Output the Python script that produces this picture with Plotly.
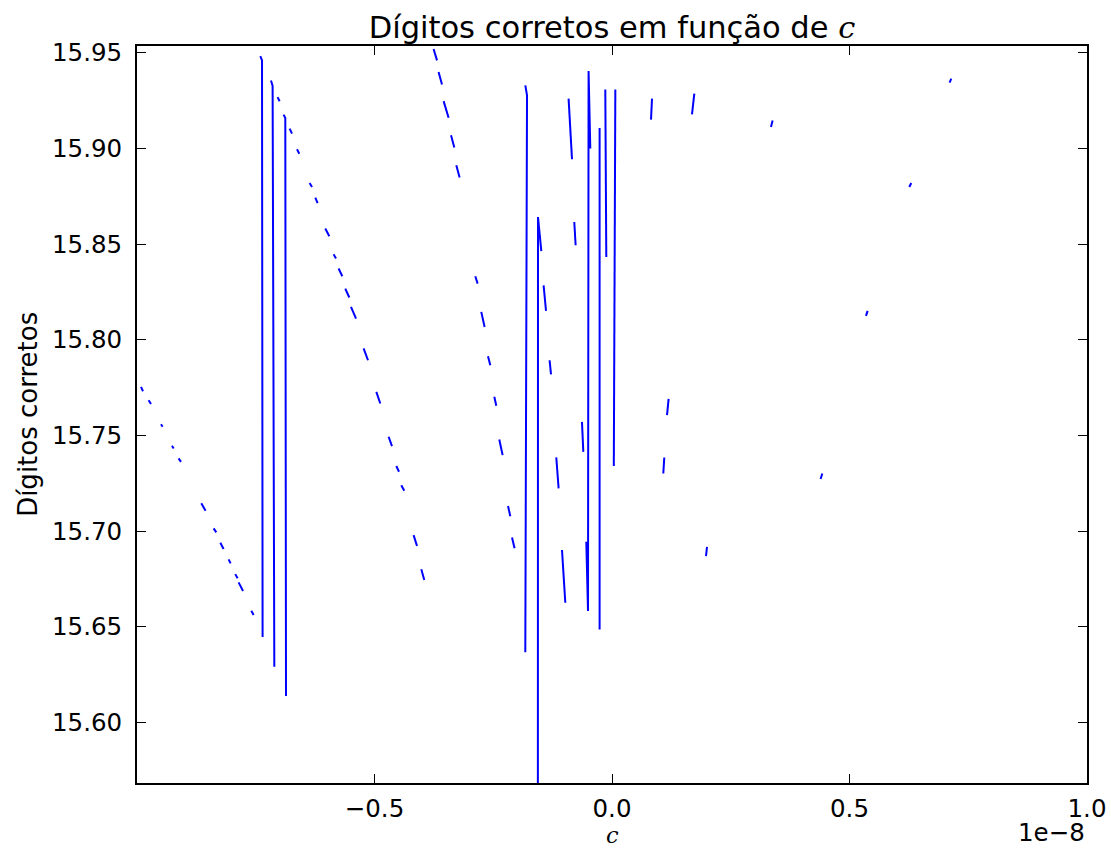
import plotly.graph_objects as go

# c values in units of 1e-8; "digitos corretos" values. Each inner list is one
# visible run of consecutive finite samples (gaps = infinite values in the source).
grpA_x = [[-0.9916, -0.9874], [-0.9756, -0.9705], [-0.9495, -0.9461], [-0.9263, -0.9229],
          [-0.9124, -0.9074], [-0.8646, -0.8556], [-0.8387, -0.8331], [-0.8246, -0.8177],
          [-0.8072, -0.8029], [-0.7931, -0.7882], [-0.7861, -0.7768], [-0.7594, -0.7545]]
grpA_y = [[15.7754, 15.7731], [15.7684, 15.7664], [15.7559, 15.7545], [15.7446, 15.7432],
          [15.7380, 15.7362], [15.7145, 15.7106], [15.7014, 15.6993], [15.6939, 15.6906],
          [15.6852, 15.6831], [15.6775, 15.6753], [15.6732, 15.6687], [15.6584, 15.6561]]

spikes_x = [[-0.7404, -0.7368, -0.7356], [-0.7179, -0.7145, -0.7109], [-0.6914, -0.6878, -0.6863],
            [-0.1825, -0.1789, -0.1825], [-0.1562, -0.1558, -0.1488],
            [-0.0457, -0.0493, -0.0505, -0.0541], [-0.0261, -0.0261], [-0.0141, -0.0120],
            [0.0070, 0.0038]]
spikes_y = [[15.9483, 15.9461, 15.6446], [15.9356, 15.9327, 15.6291], [15.9177, 15.9159, 15.6138],
            [15.9330, 15.9278, 15.6366], [15.40, 15.8642, 15.8464],
            [15.9000, 15.9405, 15.6582, 15.6944], [15.9107, 15.6486], [15.9309, 15.8433],
            [15.9309, 15.7340]]

grpB_x = [[-0.7040, -0.6998], [-0.6787, -0.6737], [-0.6632, -0.6583], [-0.6366, -0.6316],
          [-0.6246, -0.6198], [-0.6036, -0.5952], [-0.5861, -0.5811], [-0.5756, -0.5678],
          [-0.5615, -0.5531], [-0.5495, -0.5389], [-0.5229, -0.5137], [-0.4962, -0.4878],
          [-0.4703, -0.4632], [-0.4541, -0.4484], [-0.4436, -0.4373], [-0.4177, -0.4105],
          [-0.4015, -0.3952]]
grpB_y = [[15.9269, 15.9247], [15.9104, 15.9078], [15.8996, 15.8973], [15.8820, 15.8799],
          [15.8743, 15.8715], [15.8582, 15.8541], [15.8447, 15.8425], [15.8373, 15.8332],
          [15.8268, 15.8221], [15.8172, 15.8111], [15.7955, 15.7893], [15.7728, 15.7667],
          [15.7493, 15.7444], [15.7340, 15.7310], [15.7240, 15.7211], [15.6979, 15.6922],
          [15.6801, 15.6744]]

grpC_x = [[-0.3756, -0.3684], [-0.3651, -0.3579], [-0.3545, -0.3440], [-0.3389, -0.3320],
          [-0.3278, -0.3208]]
grpC_y = [[15.9520, 15.9461], [15.9400, 15.9335], [15.9248, 15.9161], [15.9069, 15.9005],
          [15.8912, 15.8848]]

grpD_x = [[-0.2878, -0.2829], [-0.2752, -0.2682], [-0.2611, -0.2562], [-0.2478, -0.2436],
          [-0.2373, -0.2303], [-0.2189, -0.2141], [-0.2105, -0.2051]]
grpD_y = [[15.8332, 15.8294], [15.8146, 15.8067], [15.7914, 15.7867], [15.7702, 15.7655],
          [15.7479, 15.7397], [15.7131, 15.7078], [15.6967, 15.6910]]

grpE_x = [[-0.1440, -0.1389], [-0.1314, -0.1284], [-0.1173, -0.1124], [-0.1053, -0.0983],
          [-0.0914, -0.0842], [-0.0794, -0.0766], [-0.0632, -0.0604]]
grpE_y = [[15.8285, 15.8151], [15.7893, 15.7819], [15.7385, 15.7223], [15.6901, 15.6625],
          [15.9261, 15.8944], [15.8616, 15.8494], [15.7571, 15.7414]]

grpF_x = [[0.0842, 0.0821], [0.1733, 0.1684], [0.3381, 0.3347], [0.7143, 0.7107],
          [0.6301, 0.6259], [0.5381, 0.5347], [0.1192, 0.1158], [0.1101, 0.1080],
          [0.4427, 0.4392], [0.2000, 0.1979]]
grpF_y = [[15.9261, 15.9151], [15.9287, 15.9179], [15.9147, 15.9112], [15.9365, 15.9344],
          [15.8820, 15.8799], [15.8151, 15.8125], [15.7691, 15.7606], [15.7385, 15.7301],
          [15.7301, 15.7272], [15.6918, 15.6869]]

x_tickvals = [-0.5, 0.0, 0.5, 1.0]
x_ticktext = ["\u22120.5", "0.0", "0.5", "1.0"]
y_tickvals = [15.60, 15.65, 15.70, 15.75, 15.80, 15.85, 15.90, 15.95]

xs, ys = [], []
for gx, gy in [(grpA_x, grpA_y), (spikes_x, spikes_y), (grpB_x, grpB_y), (grpC_x, grpC_y),
               (grpD_x, grpD_y), (grpE_x, grpE_y), (grpF_x, grpF_y)]:
    for sx, sy in zip(gx, gy):
        xs.extend(sx + [None])
        ys.extend(sy + [None])

FONT = "DejaVu Sans"
SERIF_C = "<span style=\"font-family:'DejaVu Serif'\"><i>c</i></span>"

fig = go.Figure()
fig.add_trace(go.Scatter(x=xs, y=ys, mode="lines", connectgaps=False,
                         line=dict(color="#0000ff", width=2), hoverinfo="skip",
                         showlegend=False))

axis_common = dict(showline=True, linecolor="black", linewidth=2, mirror="allticks",
                   ticks="inside", ticklen=9, tickwidth=1, tickcolor="black",
                   showgrid=False, zeroline=False, automargin=False,
                   tickfont=dict(family=FONT, size=24.5, color="black"))

fig.update_layout(
    width=1111, height=852,
    margin=dict(l=137, r=24, t=46, b=69),
    paper_bgcolor="white", plot_bgcolor="white",
    font=dict(family=FONT, color="black"),
    title=dict(text="Dígitos corretos em função de " + SERIF_C,
               x=0.5, xref="paper", y=1 - 27 / 852, yref="container",
               xanchor="center", yanchor="middle",
               font=dict(family=FONT, size=30.5, color="black")),
    xaxis=dict(range=[-1.0, 1.0], tickvals=x_tickvals, ticktext=x_ticktext,
               ticklabelstandoff=3, **axis_common),
    yaxis=dict(range=[15.5683, 15.9536], tickvals=y_tickvals, tickformat=".2f",
               ticklabelstandoff=8, **axis_common),
    annotations=[
        dict(text="Dígitos corretos", xref="paper", yref="paper", x=-0.1154, y=0.5,
             textangle=-90, xanchor="center", yanchor="middle", showarrow=False,
             font=dict(family=FONT, size=26, color="black")),
        dict(text=SERIF_C, xref="paper", yref="paper", x=0.5, y=-0.0705,
             xanchor="center", yanchor="middle", height=20, valign="middle",
             showarrow=False, font=dict(family=FONT, size=22.5, color="black")),
        dict(text="1e\u22128", xref="paper", yref="paper", x=1.0, y=-0.0665,
             xanchor="right", yanchor="middle", showarrow=False,
             font=dict(family=FONT, size=24.5, color="black")),
    ],
)

fig.write_html("out.html")
